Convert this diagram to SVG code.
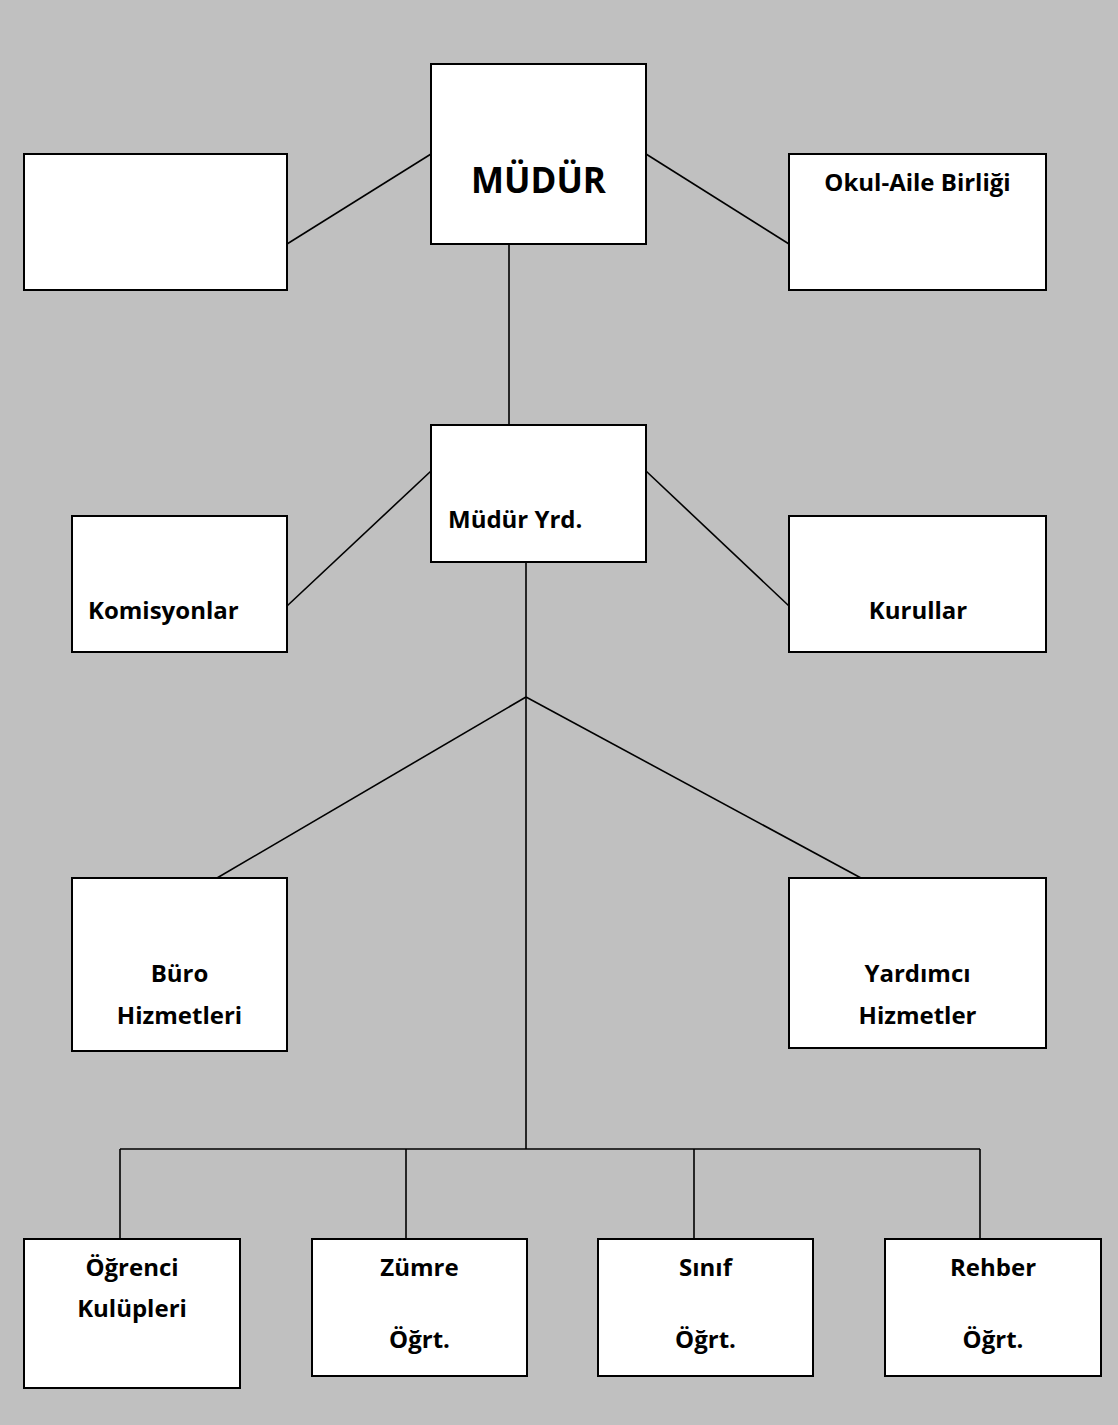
<svg xmlns="http://www.w3.org/2000/svg" width="1118" height="1425" viewBox="0 0 1118 1425">
<style>
.box{fill:#fff;stroke:#000;stroke-width:2}
.ln{stroke:#000;stroke-width:1.6;fill:none}
text{font-family:"Open Sans","Noto Sans","DejaVu Sans",sans-serif;font-weight:bold;font-size:24px;fill:#000}
.c{text-anchor:middle}
</style>
<rect x="0" y="0" width="1118" height="1425" fill="#c0c0c0"/>
<g id="connectors">
<line class="ln" x1="431" y1="154" x2="287" y2="244"/>
<line class="ln" x1="646" y1="154" x2="789" y2="244"/>
<line class="ln" x1="509" y1="244" x2="509" y2="425"/>
<line class="ln" x1="431" y1="471" x2="287" y2="606"/>
<line class="ln" x1="646" y1="471" x2="789" y2="606"/>
<line class="ln" x1="526" y1="562" x2="526" y2="1149"/>
<line class="ln" x1="526" y1="697" x2="217" y2="878"/>
<line class="ln" x1="526" y1="697" x2="861" y2="878"/>
<line class="ln" x1="120" y1="1149" x2="980" y2="1149"/>
<line class="ln" x1="120" y1="1149" x2="120" y2="1239"/>
<line class="ln" x1="406" y1="1149" x2="406" y2="1239"/>
<line class="ln" x1="694" y1="1149" x2="694" y2="1239"/>
<line class="ln" x1="980" y1="1149" x2="980" y2="1239"/>
</g>
<g id="mudur"><rect class="box" x="431" y="64" width="215" height="180"/><text class="c" x="538.5" y="193" style="font-size:35px">MÜDÜR</text></g>
<g id="blank"><rect class="box" x="24" y="154" width="263" height="136"/></g>
<g id="okul-aile"><rect class="box" x="789" y="154" width="257" height="136"/><text class="c" x="917.5" y="191" style="font-size:24px">Okul-Aile Birliği</text></g>
<g id="mudur-yrd"><rect class="box" x="431" y="425" width="215" height="137"/><text x="448" y="528">Müdür Yrd.</text></g>
<g id="komisyonlar"><rect class="box" x="72" y="516" width="215" height="136"/><text x="88" y="619">Komisyonlar</text></g>
<g id="kurullar"><rect class="box" x="789" y="516" width="257" height="136"/><text class="c" x="918" y="619">Kurullar</text></g>
<g id="buro"><rect class="box" x="72" y="878" width="215" height="173"/><text class="c" x="179.5" y="982">Büro</text><text class="c" x="179.5" y="1024">Hizmetleri</text></g>
<g id="yardimci"><rect class="box" x="789" y="878" width="257" height="170"/><text class="c" x="917.5" y="982">Yardımcı</text><text class="c" x="917.5" y="1024">Hizmetler</text></g>
<g id="ogrenci"><rect class="box" x="24" y="1239" width="216" height="149"/><text class="c" x="132" y="1276">Öğrenci</text><text class="c" x="132" y="1317">Kulüpleri</text></g>
<g id="zumre"><rect class="box" x="312" y="1239" width="215" height="137"/><text class="c" x="419.5" y="1276">Zümre</text><text class="c" x="419.5" y="1348">Öğrt.</text></g>
<g id="sinif"><rect class="box" x="598" y="1239" width="215" height="137"/><text class="c" x="705.5" y="1276">Sınıf</text><text class="c" x="705.5" y="1348">Öğrt.</text></g>
<g id="rehber"><rect class="box" x="885" y="1239" width="216" height="137"/><text class="c" x="993" y="1276">Rehber</text><text class="c" x="993" y="1348">Öğrt.</text></g>
</svg>
